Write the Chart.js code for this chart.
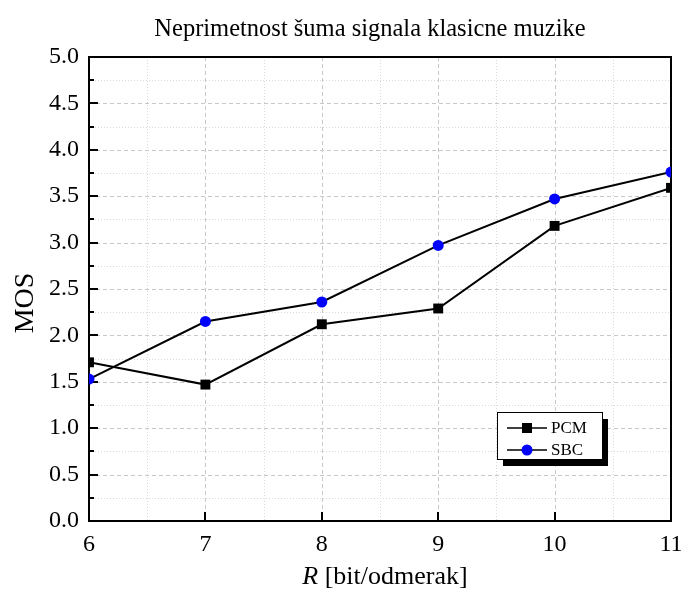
<!DOCTYPE html>
<html>
<head>
<meta charset="utf-8">
<title>Neprimetnost šuma signala klasicne muzike</title>
<script src="https://cdn.jsdelivr.net/npm/chart.js@4"></script>
<style>
  html, body { margin: 0; padding: 0; background: #ffffff; }
  #wrap { width: 683px; height: 592px; }
</style>
</head>
<body>
<div id="wrap"><canvas id="mosChart" width="683" height="592"></canvas></div>
<script>
// ── data ─────────────────────────────────────
const bitRates  = [6, 7, 8, 9, 10, 11];
const pcmScores = [1.71, 1.47, 2.12, 2.29, 3.18, 3.59];
const sbcScores = [1.53, 2.15, 2.36, 2.97, 3.47, 3.76];
const yTicks    = [0, 0.5, 1, 1.5, 2, 2.5, 3, 3.5, 4, 4.5, 5];
const xTicks    = [6, 7, 8, 9, 10, 11];

const chartTitle = 'Neprimetnost šuma signala klasicne muzike';
const yTitle     = 'MOS';

const SERIF = '"Liberation Serif", "Times New Roman", serif';

// ── plugin: grid, frame, inner ticks, titles, legend ─────────
const framePlugin = {
  id: 'frame',
  beforeDatasetsDraw(chart) {
    const { ctx, chartArea: a, scales: { x, y } } = chart;
    ctx.save();

    // minor grid (dotted)
    ctx.strokeStyle = '#d9d9d9';
    ctx.lineWidth = 1;
    ctx.setLineDash([1, 2]);
    for (let v = 0.25; v < 5; v += 0.5) {
      const py = Math.round(y.getPixelForValue(v)) + 0.5;
      ctx.beginPath(); ctx.moveTo(a.left, py); ctx.lineTo(a.right, py); ctx.stroke();
    }
    for (let v = 6.5; v < 11; v += 1) {
      const px = Math.round(x.getPixelForValue(v)) + 0.5;
      ctx.beginPath(); ctx.moveTo(px, a.top); ctx.lineTo(px, a.bottom); ctx.stroke();
    }

    // major grid (dashed)
    ctx.strokeStyle = '#c8c8c8';
    ctx.setLineDash([4, 3]);
    yTicks.slice(1, -1).forEach(v => {
      const py = Math.round(y.getPixelForValue(v)) + 0.5;
      ctx.beginPath(); ctx.moveTo(a.left, py); ctx.lineTo(a.right, py); ctx.stroke();
    });
    xTicks.slice(1, -1).forEach(v => {
      const px = Math.round(x.getPixelForValue(v)) + 0.5;
      ctx.beginPath(); ctx.moveTo(px, a.top); ctx.lineTo(px, a.bottom); ctx.stroke();
    });
    ctx.setLineDash([]);

    // inward ticks: left axis (major + minor), bottom axis (major only)
    ctx.strokeStyle = '#000000';
    ctx.lineWidth = 2;
    for (let v = 0.25; v < 5; v += 0.25) {
      const py = Math.round(y.getPixelForValue(v));
      const len = (Math.abs(v * 2 - Math.round(v * 2)) < 1e-6) ? 9 : 5;
      ctx.beginPath(); ctx.moveTo(a.left, py); ctx.lineTo(a.left + len, py); ctx.stroke();
    }
    xTicks.slice(1, -1).forEach(v => {
      const px = Math.round(x.getPixelForValue(v));
      ctx.beginPath(); ctx.moveTo(px, a.bottom); ctx.lineTo(px, a.bottom - 9); ctx.stroke();
    });

    // frame
    ctx.lineWidth = 2;
    ctx.strokeRect(a.left, a.top, a.right - a.left, a.bottom - a.top);
    ctx.restore();
  },

  afterDraw(chart) {
    const { ctx } = chart;
    ctx.save();
    ctx.fillStyle = '#000000';

    // title
    ctx.font = '24.5px ' + SERIF;
    ctx.textAlign = 'center';
    ctx.textBaseline = 'alphabetic';
    ctx.fillText(chartTitle, 370, 36);

    // y axis title
    ctx.save();
    ctx.translate(33, 303);
    ctx.rotate(-Math.PI / 2);
    ctx.font = '28px ' + SERIF;
    ctx.fillText(yTitle, 0, 0);
    ctx.restore();

    // x axis title: italic R + rest
    const partA = 'R', partB = ' [bit/odmerak]';
    ctx.textAlign = 'left';
    ctx.font = 'italic 26px ' + SERIF;
    const wA = ctx.measureText(partA).width;
    ctx.font = '26px ' + SERIF;
    const wB = ctx.measureText(partB).width;
    const x0 = 385 - (wA + wB) / 2;
    ctx.font = 'italic 26px ' + SERIF;
    ctx.fillText(partA, x0, 584);
    ctx.font = '26px ' + SERIF;
    ctx.fillText(partB, x0 + wA, 584);

    // legend with drop shadow
    const lx = 497, ly = 412, lw = 105, lh = 47;
    ctx.fillRect(lx + 6, ly + 7, lw, lh);
    ctx.fillStyle = '#ffffff';
    ctx.fillRect(lx, ly, lw, lh);
    ctx.strokeStyle = '#000000';
    ctx.lineWidth = 1;
    ctx.strokeRect(lx + 0.5, ly + 0.5, lw, lh);

    chart.data.datasets.forEach((ds, i) => {
      const cy = ly + 16 + i * 22;
      ctx.strokeStyle = '#000000';
      ctx.lineWidth = 1.5;
      ctx.beginPath(); ctx.moveTo(lx + 10, cy); ctx.lineTo(lx + 50, cy); ctx.stroke();
      ctx.fillStyle = ds.pointBackgroundColor;
      if (ds.pointStyle === 'rect') {
        ctx.fillRect(lx + 25, cy - 5, 10, 10);
      } else {
        ctx.beginPath(); ctx.arc(lx + 30, cy, 5.5, 0, Math.PI * 2); ctx.fill();
      }
      ctx.fillStyle = '#000000';
      ctx.font = '17px ' + SERIF;
      ctx.textAlign = 'left';
      ctx.textBaseline = 'middle';
      ctx.fillText(ds.label, lx + 54, cy + 1);
    });
    ctx.restore();
  }
};

// ── chart ────────────────────────────────────
const ctx = document.getElementById('mosChart').getContext('2d');
new Chart(ctx, {
  type: 'line',
  data: {
    datasets: [
      {
        label: 'PCM',
        data: bitRates.map((r, i) => ({ x: r, y: pcmScores[i] })),
        borderColor: '#000000',
        borderWidth: 2,
        pointStyle: 'rect',
        pointRadius: 7,
        pointBackgroundColor: '#000000',
        pointBorderWidth: 0,
        tension: 0
      },
      {
        label: 'SBC',
        data: bitRates.map((r, i) => ({ x: r, y: sbcScores[i] })),
        borderColor: '#000000',
        borderWidth: 2,
        pointStyle: 'circle',
        pointRadius: 5.5,
        pointBackgroundColor: '#0000ff',
        pointBorderWidth: 0,
        tension: 0
      }
    ]
  },
  options: {
    responsive: false,
    animation: false,
    layout: { padding: { top: 57, right: 12, bottom: 0, left: 0 } },
    plugins: {
      legend: { display: false },
      title: { display: false },
      tooltip: { enabled: false }
    },
    scales: {
      x: {
        type: 'linear',
        min: 6, max: 11,
        afterBuildTicks: s => { s.ticks = xTicks.map(v => ({ value: v })); },
        afterFit: s => { s.height = 71; s.paddingLeft = 0; s.paddingRight = 0; },
        grid: { display: false, drawTicks: false },
        border: { display: false },
        ticks: {
          color: '#000000',
          padding: 9,
          font: { family: SERIF, size: 24 }
        }
      },
      y: {
        min: 0, max: 5,
        afterBuildTicks: s => { s.ticks = yTicks.map(v => ({ value: v })); },
        afterFit: s => { s.width = 89; s.paddingTop = 0; s.paddingBottom = 0; },
        grid: { display: false, drawTicks: false },
        border: { display: false },
        ticks: {
          color: '#000000',
          padding: 10,
          font: { family: SERIF, size: 24 },
          callback: v => Number(v).toFixed(1)
        }
      }
    }
  },
  plugins: [framePlugin]
});
</script>
</body>
</html>
